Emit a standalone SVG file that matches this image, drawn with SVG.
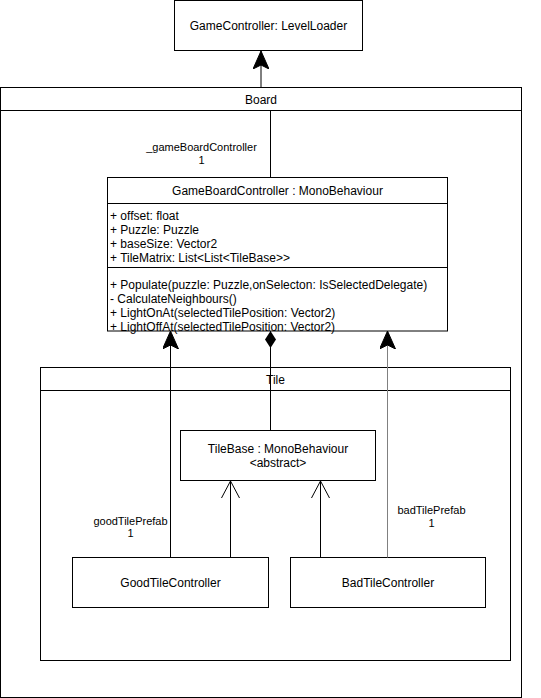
<svg xmlns="http://www.w3.org/2000/svg" width="541" height="698" viewBox="0 0 541 698">
<style>
  .box { fill: #ffffff; stroke: #000000; stroke-width: 1; }
  .frame { fill: none; stroke: #000000; stroke-width: 1; }
  .t { font-family: "Liberation Sans", Arial, Helvetica, sans-serif; font-size: 12px; fill: #000000; }
  .c { text-anchor: middle; }
  .lbl { font-family: "Liberation Sans", Arial, Helvetica, sans-serif; font-size: 11px; fill: #000000; text-anchor: middle; }
  .edge { fill: none; stroke: #000000; stroke-width: 1; }
  .gray { stroke: #808080; }
</style>
<defs>
  <marker id="block" viewBox="0 0 18 16" refX="18" refY="8" markerWidth="18" markerHeight="16" markerUnits="userSpaceOnUse" orient="auto">
    <path d="M0,0 L18,8 L0,16 L4,8 Z" fill="#000000" stroke="#000000" stroke-width="1"/>
  </marker>
  <marker id="open" viewBox="-1 -1 19 20" refX="17" refY="9" markerWidth="19" markerHeight="20" markerUnits="userSpaceOnUse" orient="auto">
    <path d="M0,0 L17,9 L0,18" fill="none" stroke="#000000" stroke-width="1"/>
  </marker>
  <marker id="diamond" viewBox="0 0 17 11" refX="17" refY="5.5" markerWidth="17" markerHeight="11" markerUnits="userSpaceOnUse" orient="auto">
    <path d="M0,5.5 L8.5,0 L17,5.5 L8.5,11 Z" fill="#000000"/>
  </marker>
</defs>

<g id="board">
  <rect class="frame" x="0.5" y="87.5" width="521" height="610"/>
  <line class="frame" x1="0.5" y1="110.5" x2="521.5" y2="110.5"/>
  <text class="t c" x="261" y="103.5">Board</text>
</g>

<g id="tile">
  <rect class="frame" x="40.5" y="367.5" width="470" height="293"/>
  <line class="frame" x1="40.5" y1="390.5" x2="510.5" y2="390.5"/>
  <text class="t c" x="275.5" y="383.5">Tile</text>
</g>

<g id="gameController">
  <rect class="box" x="174.5" y="0.5" width="188" height="50"/>
  <text class="t c" x="268.5" y="30">GameController: LevelLoader</text>
</g>

<g id="gameBoardController">
  <rect class="box" x="107.5" y="177.5" width="340" height="153.5"/>
  <line class="frame" x1="107.5" y1="203.5" x2="447.5" y2="203.5"/>
  <line class="frame" x1="107.5" y1="267.5" x2="447.5" y2="267.5"/>
  <text class="t c" x="277.5" y="194.5">GameBoardController : MonoBehaviour</text>
  <text class="t" x="110" y="220">+ offset: float</text>
  <text class="t" x="110" y="234">+ Puzzle: Puzzle</text>
  <text class="t" x="110" y="248">+ baseSize: Vector2</text>
  <text class="t" x="110" y="262">+ TileMatrix: List&lt;List&lt;TileBase&gt;&gt;</text>
  <text class="t" x="110" y="289">+ Populate(puzzle: Puzzle,onSelecton: IsSelectedDelegate)</text>
  <text class="t" x="110" y="303">- CalculateNeighbours()</text>
  <text class="t" x="110" y="317">+ LightOnAt(selectedTilePosition: Vector2)</text>
  <text class="t" x="110" y="331">+ LightOffAt(selectedTilePosition: Vector2)</text>
</g>

<g id="tileBase">
  <rect class="box" x="180.5" y="430.5" width="195" height="50"/>
  <text class="t c" x="278" y="453">TileBase : MonoBehaviour</text>
  <text class="t c" x="278" y="467">&lt;abstract&gt;</text>
</g>

<g id="goodTileController">
  <rect class="box" x="72.5" y="557.5" width="196" height="50"/>
  <text class="t c" x="170.5" y="586.5">GoodTileController</text>
</g>

<g id="badTileController">
  <rect class="box" x="290.5" y="557.5" width="195" height="50"/>
  <text class="t c" x="388" y="586.5">BadTileController</text>
</g>

<g id="connectors">
  <line class="edge" x1="261" y1="87.5" x2="261" y2="51" marker-end="url(#block)"/>
  <line class="edge" x1="270.5" y1="110.5" x2="270.5" y2="177.5"/>
  <text class="lbl" x="201.5" y="151">_gameBoardController</text>
  <text class="lbl" x="201.5" y="164">1</text>

  <line class="edge" x1="270.5" y1="430.5" x2="270.5" y2="331" marker-end="url(#diamond)"/>

  <line class="edge" x1="170.5" y1="557.5" x2="170.5" y2="331" marker-end="url(#block)"/>
  <text class="lbl" x="130.5" y="525">goodTilePrefab</text>
  <text class="lbl" x="130.5" y="537">1</text>

  <line class="edge gray" x1="387.5" y1="557.5" x2="387.5" y2="331" marker-end="url(#block)"/>
  <text class="lbl" x="431.5" y="514">badTilePrefab</text>
  <text class="lbl" x="431.5" y="527">1</text>

  <line class="edge" x1="230.5" y1="557.5" x2="230.5" y2="481" marker-end="url(#open)"/>
  <line class="edge" x1="320.5" y1="557.5" x2="320.5" y2="481" marker-end="url(#open)"/>
</g>
</svg>
